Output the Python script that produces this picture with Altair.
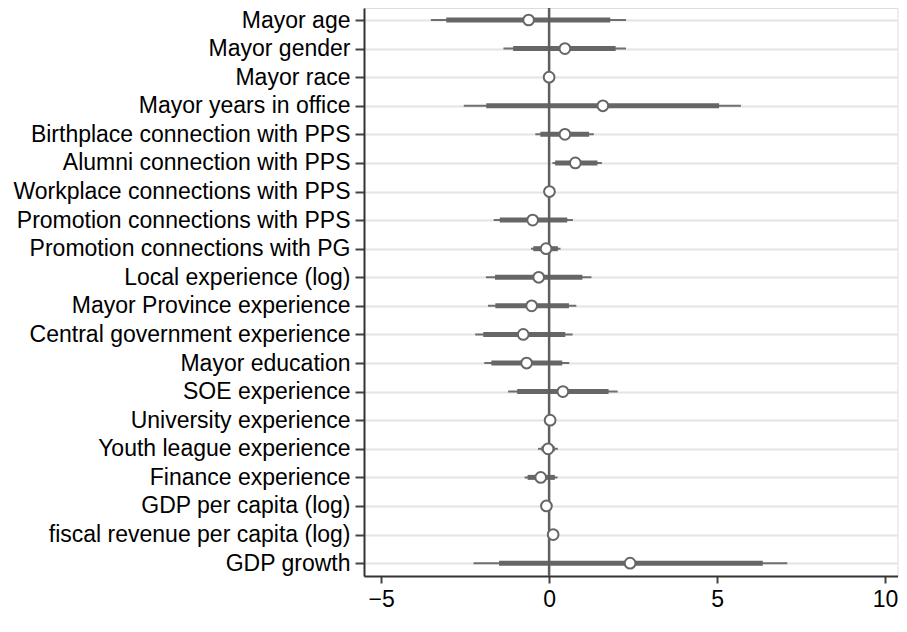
import json
import altair as alt
import pandas as pd

labels = [
    "Mayor age", "Mayor gender", "Mayor race", "Mayor years in office",
    "Birthplace connection with PPS", "Alumni connection with PPS",
    "Workplace connections with PPS", "Promotion connections with PPS",
    "Promotion connections with PG", "Local experience (log)",
    "Mayor Province experience", "Central government experience",
    "Mayor education", "SOE experience", "University experience",
    "Youth league experience", "Finance experience", "GDP per capita (log)",
    "fiscal revenue per capita (log)", "GDP growth",
]
coef = [-0.61, 0.47, 0.00, 1.60, 0.47, 0.78, 0.01, -0.49, -0.09, -0.31,
        -0.52, -0.77, -0.67, 0.41, 0.03, -0.03, -0.25, -0.08, 0.12, 2.41]
lo95 = [-3.52, -1.36, 0.00, -2.54, -0.41, 0.10, 0.01, -1.65, -0.54, -1.88,
        -1.82, -2.20, -1.93, -1.22, 0.03, -0.33, -0.73, -0.08, 0.12, -2.25]
hi95 = [2.29, 2.29, 0.00, 5.71, 1.33, 1.57, 0.01, 0.71, 0.34, 1.26,
        0.81, 0.70, 0.60, 2.04, 0.03, 0.26, 0.25, -0.08, 0.12, 7.09]
lo90 = [-3.06, -1.07, 0.00, -1.87, -0.26, 0.18, 0.01, -1.47, -0.47, -1.61,
        -1.60, -1.96, -1.72, -0.95, 0.03, -0.23, -0.64, -0.08, 0.12, -1.49]
hi90 = [1.82, 1.98, 0.00, 5.06, 1.19, 1.44, 0.01, 0.54, 0.26, 0.99,
        0.59, 0.48, 0.39, 1.77, 0.03, 0.17, 0.17, -0.08, 0.12, 6.36]
x_ticks = [-5, 0, 5, 10]

df = pd.DataFrame({
    "idx": list(range(len(labels))),
    "label": labels,
    "coef": coef,
    "lo95": lo95,
    "hi95": hi95,
    "lo90": lo90,
    "hi90": hi90,
})
zero_df = pd.DataFrame({"z": [0]})

FONT = "Liberation Sans"
label_expr = "[" + ",".join(json.dumps(l) for l in labels) + "][datum.value]"

xscale = alt.Scale(domain=[-5.51, 10.37], nice=False, zero=False)
yscale = alt.Scale(domain=[-0.42, 19.45], reverse=True, nice=False, zero=False)

xaxis = alt.Axis(values=x_ticks, title=None, grid=False, labelFontSize=23,
                 labelFont=FONT, labelColor="#000", tickSize=7, tickWidth=2,
                 tickColor="#444", domainColor="#333", domainWidth=2,
                 labelPadding=5, format="d")
yaxis = alt.Axis(values=list(range(len(labels))), labelExpr=label_expr,
                 title=None, grid=True, gridColor="#e4e4e4", gridWidth=2,
                 labelFontSize=23, labelFont=FONT, labelColor="#000",
                 tickSize=9, tickWidth=2, tickColor="#444", domainColor="#333",
                 domainWidth=2, labelPadding=5, labelLimit=400)

Y = alt.Y("idx:Q", scale=yscale, axis=yaxis)

thin = alt.Chart(df).mark_rule(color="#6f6f6f", strokeWidth=2).encode(
    x=alt.X("lo95:Q", scale=xscale, axis=xaxis), x2="hi95:Q", y=Y)
thick = alt.Chart(df).mark_rule(color="#666666", strokeWidth=5).encode(
    x=alt.X("lo90:Q", scale=xscale, axis=xaxis), x2="hi90:Q", y=Y)
zero = alt.Chart(zero_df).mark_rule(color="#5e5e5e", strokeWidth=2.5).encode(
    x=alt.X("z:Q", scale=xscale, axis=xaxis))
pts = alt.Chart(df).mark_point(shape="circle", filled=True, fill="white",
                               stroke="#666666", strokeWidth=2, size=115,
                               opacity=1).encode(
    x=alt.X("coef:Q", scale=xscale, axis=xaxis), y=Y)

chart = alt.layer(thin, thick, zero, pts).properties(
    width=533.5, height=568,
    autosize=alt.AutoSizeParams(type="none"),
    padding={"left": 356, "top": 0, "right": 1.5, "bottom": 37},
).configure_view(stroke="#333", strokeWidth=1.5).configure(background="white")

chart.save("out.html", embed_options={"renderer": "svg", "actions": False})
